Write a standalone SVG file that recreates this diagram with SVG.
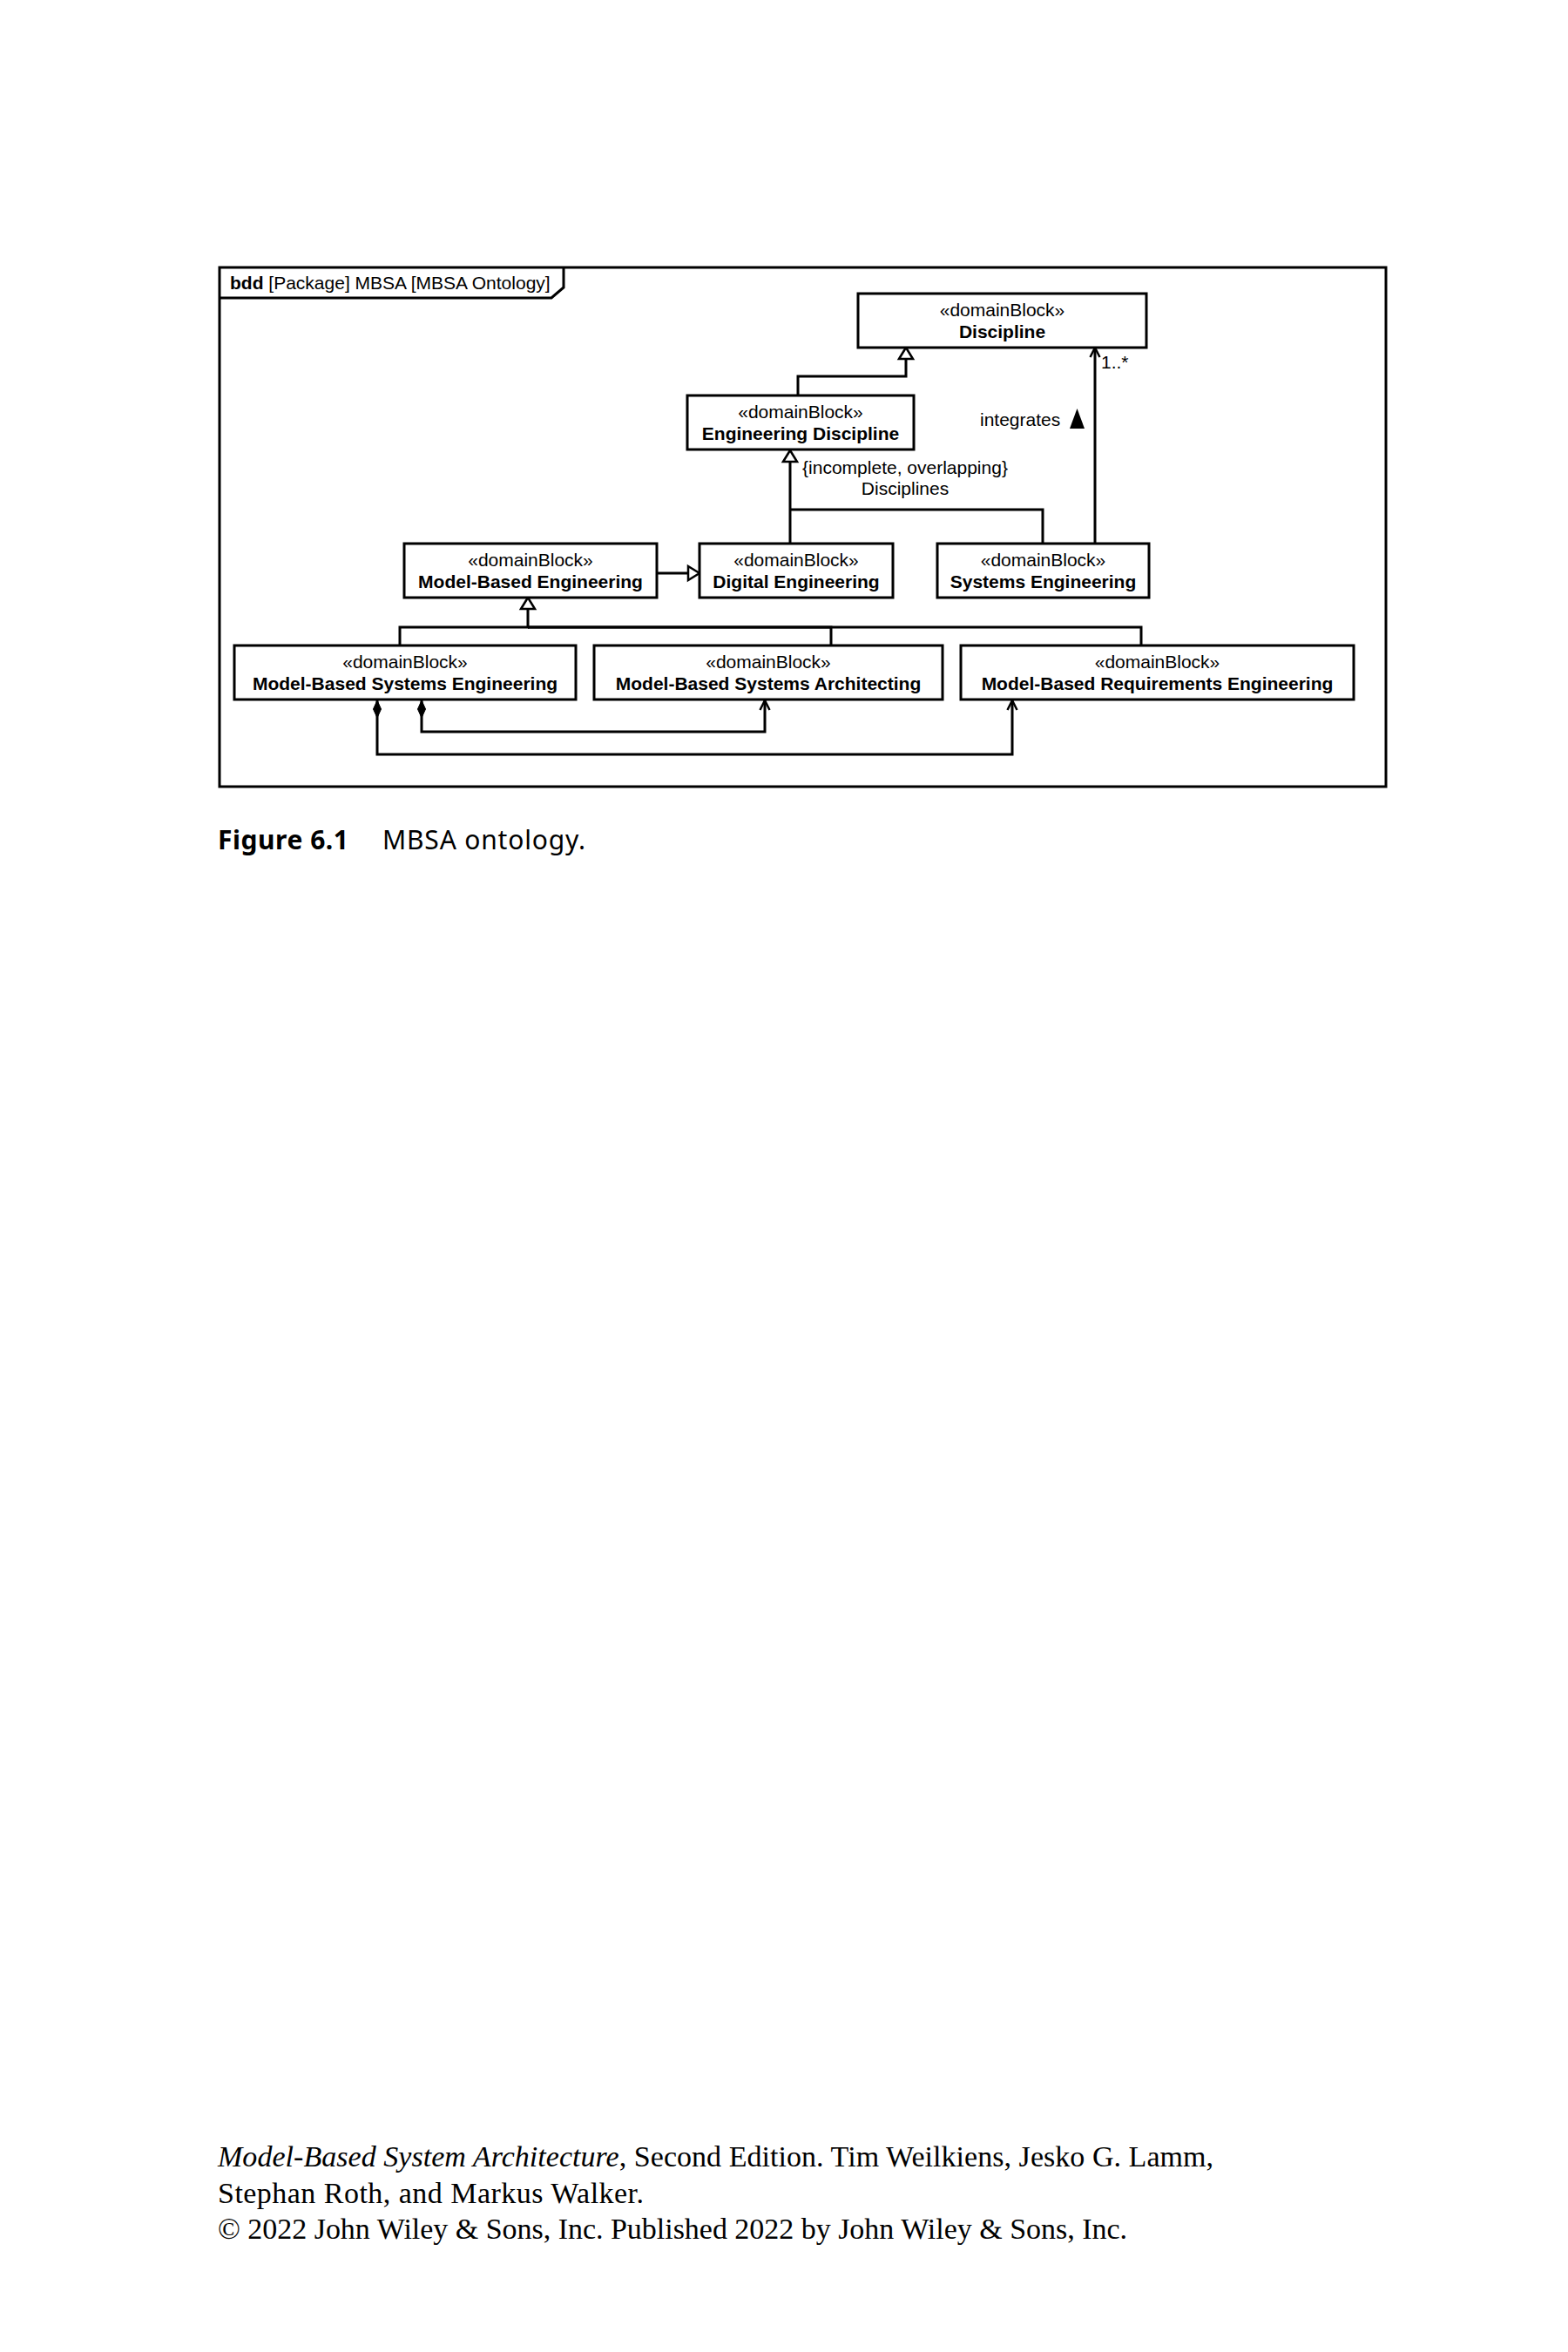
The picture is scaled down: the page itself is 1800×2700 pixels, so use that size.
<svg xmlns="http://www.w3.org/2000/svg" width="1800" height="2700" viewBox="0 0 1800 2700">
<style>
  .frame { fill: none; stroke: #000; stroke-width: 3; }
  .box { fill: #fff; stroke: #000; stroke-width: 3; }
  .st { font-family: "Liberation Sans", Arial, sans-serif; font-size: 21px; text-anchor: middle; fill: #000; }
  .nm { font-family: "Liberation Sans", Arial, sans-serif; font-size: 21px; font-weight: bold; text-anchor: middle; fill: #000; }
  .lbl { font-family: "Liberation Sans", Arial, sans-serif; font-size: 21px; fill: #000; }
  .edge { fill: none; stroke: #000; stroke-width: 3; }
  .cap { font-family: "Noto Sans", "Open Sans", sans-serif; font-size: 30px; fill: #000; }
  .foot { font-family: "Liberation Serif", "Times New Roman", serif; font-size: 34px; fill: #000; }
</style>
<defs>
  <marker id="gen" markerUnits="userSpaceOnUse" orient="auto" refX="13" refY="0" markerWidth="20" markerHeight="20" overflow="visible">
    <path d="M0,-8 L13,0 L0,8 Z" fill="#fff" stroke="#000" stroke-width="2.5"/>
  </marker>
  <marker id="open" markerUnits="userSpaceOnUse" orient="auto" refX="11" refY="0" markerWidth="20" markerHeight="20" overflow="visible">
    <path d="M0,-5.5 L11,0 L0,5.5" fill="none" stroke="#000" stroke-width="2.5"/>
  </marker>
  <marker id="comp" markerUnits="userSpaceOnUse" orient="auto" refX="0" refY="0" markerWidth="24" markerHeight="24" overflow="visible">
    <path d="M0,0 L10,-4.5 L20,0 L10,4.5 Z" fill="#000" stroke="#000" stroke-width="1"/>
  </marker>
</defs>
<rect x="0" y="0" width="1800" height="2700" fill="#fff"/>

<g id="frame">
  <rect class="frame" x="252" y="307" width="1339" height="596"/>
  <path class="frame" d="M252,342 H633 L647,330 V307"/>
  <text x="264" y="332" class="lbl"><tspan font-weight="bold">bdd</tspan> [Package] MBSA [MBSA Ontology]</text>
</g>

<g id="connectors">
  <path class="edge" d="M916,454 V432 H1040 V399" marker-end="url(#gen)"/>
  <path class="edge" d="M1197,624 V585 H907"/>
  <path class="edge" d="M907,624 V517" marker-end="url(#gen)"/>
  <path class="edge" d="M1257,624 V399" marker-end="url(#open)"/>
  <path class="edge" d="M754,658 H803" marker-end="url(#gen)"/>
  <path class="edge" d="M954,741 V720 H606"/>
  <path class="edge" d="M1310,741 V720 H606"/>
  <path class="edge" d="M459,741 V720 H606 V686" marker-end="url(#gen)"/>
  <path class="edge" d="M484,804 V840 H878 V804" marker-start="url(#comp)" marker-end="url(#open)"/>
  <path class="edge" d="M433,804 V866 H1162 V804" marker-start="url(#comp)" marker-end="url(#open)"/>
  <text x="1264" y="423" class="lbl" font-size="19">1..*</text>
  <text x="1125" y="489" class="lbl">integrates</text>
  <polygon points="1228,492 1236.5,469 1245,492" fill="#000"/>
  <text x="1039" y="544" class="lbl" text-anchor="middle">{incomplete, overlapping}</text>
  <text x="1039" y="568" class="lbl" text-anchor="middle">Disciplines</text>
</g>

<g id="discipline">
  <rect class="box" x="985" y="337" width="331" height="62"/>
  <text class="st" x="1150.5" y="363">«domainBlock»</text>
  <text class="nm" x="1150.5" y="388">Discipline</text>
</g>
<g id="engineering-discipline">
  <rect class="box" x="789" y="454" width="260" height="62"/>
  <text class="st" x="919" y="480">«domainBlock»</text>
  <text class="nm" x="919" y="505">Engineering Discipline</text>
</g>
<g id="model-based-engineering">
  <rect class="box" x="464" y="624" width="290" height="62"/>
  <text class="st" x="609" y="650">«domainBlock»</text>
  <text class="nm" x="609" y="675">Model-Based Engineering</text>
</g>
<g id="digital-engineering">
  <rect class="box" x="803" y="624" width="222" height="62"/>
  <text class="st" x="914" y="650">«domainBlock»</text>
  <text class="nm" x="914" y="675">Digital Engineering</text>
</g>
<g id="systems-engineering">
  <rect class="box" x="1076" y="624" width="243" height="62"/>
  <text class="st" x="1197.5" y="650">«domainBlock»</text>
  <text class="nm" x="1197.5" y="675">Systems Engineering</text>
</g>
<g id="mbse">
  <rect class="box" x="269" y="741" width="392" height="62"/>
  <text class="st" x="465" y="767">«domainBlock»</text>
  <text class="nm" x="465" y="792">Model-Based Systems Engineering</text>
</g>
<g id="mbsa">
  <rect class="box" x="682" y="741" width="400" height="62"/>
  <text class="st" x="882" y="767">«domainBlock»</text>
  <text class="nm" x="882" y="792">Model-Based Systems Architecting</text>
</g>
<g id="mbre">
  <rect class="box" x="1103" y="741" width="451" height="62"/>
  <text class="st" x="1328.5" y="767">«domainBlock»</text>
  <text class="nm" x="1328.5" y="792">Model-Based Requirements Engineering</text>
</g>

<g id="caption">
  <text class="cap" x="250" y="975" font-weight="bold" textLength="150">Figure 6.1</text>
  <text class="cap" x="439" y="975" textLength="233">MBSA ontology.</text>
</g>

<g id="footer">
  <text class="foot" x="250" y="2487" textLength="1143"><tspan font-style="italic">Model-Based System Architecture</tspan>, Second Edition. Tim Weilkiens, Jesko G. Lamm,</text>
  <text class="foot" x="250" y="2529" textLength="489">Stephan Roth, and Markus Walker.</text>
  <text class="foot" x="250" y="2570" textLength="1044">© 2022 John Wiley &amp; Sons, Inc. Published 2022 by John Wiley &amp; Sons, Inc.</text>
</g>
</svg>
